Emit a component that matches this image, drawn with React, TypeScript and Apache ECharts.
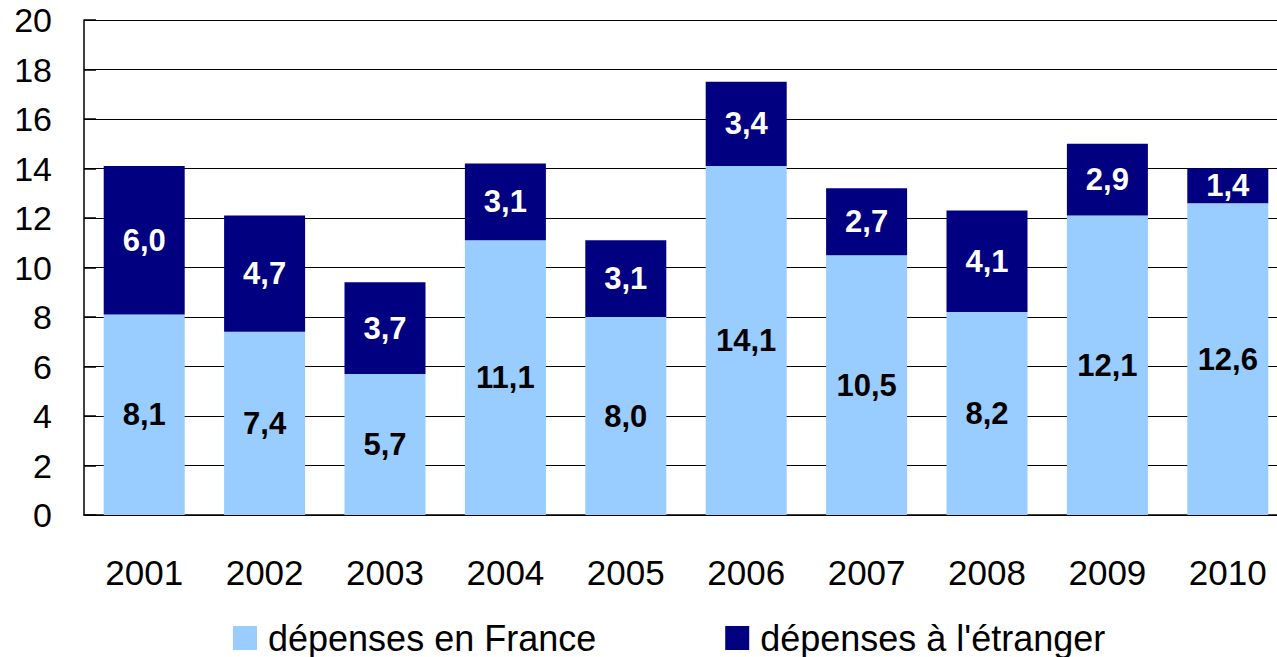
import React, { useEffect, useRef } from "react";
import * as echarts from "echarts";

const years = ["2001", "2002", "2003", "2004", "2005", "2006", "2007", "2008", "2009", "2010"];
const franceValues = [8.1, 7.4, 5.7, 11.1, 8.0, 14.1, 10.5, 8.2, 12.1, 12.6];
const abroadValues = [6.0, 4.7, 3.7, 3.1, 3.1, 3.4, 2.7, 4.1, 2.9, 1.4];
const seriesNames = ["dépenses en France", "dépenses à l'étranger"];

const FONT = "'Liberation Sans', Arial, sans-serif";
const fmt = (v: number) => v.toFixed(1).replace(".", ",");

export default function App() {
  const ref = useRef<HTMLDivElement>(null);
  useEffect(() => {
    if (!ref.current) return;
    const chart = echarts.init(ref.current, undefined, { renderer: "svg" });
    chart.setOption({
      animation: false,
      backgroundColor: "#ffffff",
      textStyle: { fontFamily: FONT },
      grid: {
        left: 84,
        top: 20,
        width: 1204,
        bottom: 142,
        containLabel: false,
        outerBoundsMode: "none",
      },
      legend: {
        left: 228,
        top: 615,
        itemWidth: 24,
        itemHeight: 24,
        itemGap: 129,
        icon: "rect",
        textStyle: {
          fontSize: 36,
          lineHeight: 34,
          color: "#000",
          fontFamily: FONT,
          padding: [0, 0, 0, 6],
        },
        data: seriesNames,
      },
      xAxis: {
        type: "category",
        data: years,
        axisLine: { lineStyle: { color: "#000", width: 1.5 } },
        axisTick: { inside: true, length: 12, lineStyle: { color: "#000", width: 1.5 } },
        axisLabel: { fontSize: 35, color: "#000", margin: 40, fontFamily: FONT },
      },
      yAxis: {
        type: "value",
        min: 0,
        max: 20,
        interval: 2,
        axisLine: { show: true, lineStyle: { color: "#000", width: 1.5 } },
        axisTick: { show: true, inside: true, length: 12, lineStyle: { color: "#000", width: 1.5 } },
        axisLabel: { fontSize: 34, color: "#000", margin: 32, fontFamily: FONT },
        splitLine: { show: true, lineStyle: { color: "#000", width: 1.2 } },
      },
      series: [
        {
          name: seriesNames[0],
          type: "bar",
          stack: "total",
          data: franceValues,
          barWidth: 81,
          itemStyle: { color: "#99CCFF" },
          label: {
            show: true,
            position: "inside",
            formatter: (p: any) => fmt(p.value),
            fontSize: 31,
            fontWeight: "bold",
            color: "#000",
            fontFamily: FONT,
          },
        },
        {
          name: seriesNames[1],
          type: "bar",
          stack: "total",
          data: abroadValues,
          barWidth: 81,
          itemStyle: { color: "#000080" },
          label: {
            show: true,
            position: "inside",
            formatter: (p: any) => fmt(p.value),
            fontSize: 31,
            fontWeight: "bold",
            color: "#fff",
            fontFamily: FONT,
          },
        },
      ],
    });
    return () => chart.dispose();
  }, []);
  return (
    <div
      ref={ref}
      style={{ position: "fixed", left: 0, top: 0, width: 1277, height: 657 }}
    />
  );
}
